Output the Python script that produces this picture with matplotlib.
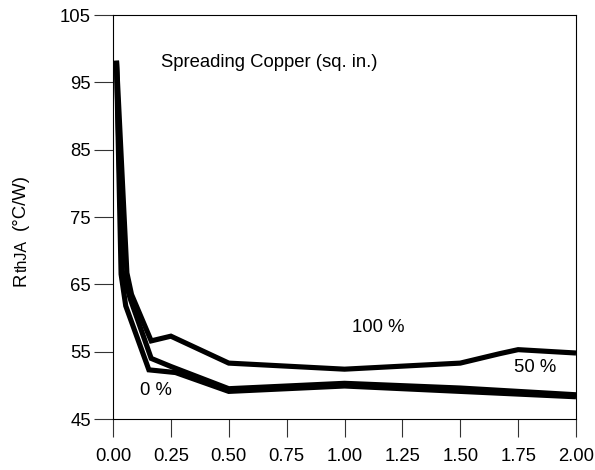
import numpy as np
import matplotlib
matplotlib.use("Agg")
import matplotlib.pyplot as plt

plt.rcParams['font.family'] = ['Liberation Sans', 'DejaVu Sans']

# Curves: spreading copper area (sq. in.) vs RthJA (C/W)
x_top = [0.015, 0.06, 0.08, 0.165, 0.25, 0.50, 1.00, 1.50, 1.67, 1.75, 2.00]
y_top = [98.2, 66.7, 63.5, 56.6, 57.3, 53.3, 52.4, 53.3, 54.7, 55.3, 54.8]

x_mid = [0.015, 0.04, 0.075, 0.165, 0.25, 0.50, 1.00, 1.50, 2.00]
y_mid = [98.2, 67.0, 62.8, 54.0, 52.8, 49.5, 50.3, 49.6, 48.6]

x_low = [0.015, 0.035, 0.055, 0.155, 0.27, 0.50, 1.00, 1.50, 2.00]
y_low = [98.2, 66.5, 61.8, 52.3, 51.9, 49.1, 49.9, 49.1, 48.3]

x_ticks = [0.00, 0.25, 0.50, 0.75, 1.00, 1.25, 1.50, 1.75, 2.00]
y_ticks = [45, 55, 65, 75, 85, 95, 105]

fs = 13.3
W, H = 595, 470

fig = plt.figure(figsize=(5.95, 4.70), dpi=100)
ax = fig.add_axes([113 / W, 1 - 419 / H, 463 / W, 404 / H])

for xs, ys in [(x_low, y_low), (x_mid, y_mid), (x_top, y_top)]:
    ax.plot(xs, ys, color='black', lw=3.7, solid_joinstyle='miter',
            solid_capstyle='butt')

ax.set_xlim(0, 2.0)
ax.set_ylim(45, 105)
ax.set_xticks(x_ticks)
ax.set_xticklabels([f"{v:.2f}" for v in x_ticks])
ax.set_yticks(y_ticks)

ax.tick_params(axis='both', direction='out', width=0.8,
               labelsize=fs, color='#333333')
ax.tick_params(axis='x', length=12.8, pad=8)
ax.tick_params(axis='y', length=14, pad=2)
for s in ax.spines.values():
    s.set_linewidth(0.8)

# y axis title built from pieces so the subscript sits close to the R
def ylab(text, x_px, y_px, size):
    fig.text(x_px / W, 1 - y_px / H, text, fontsize=size, rotation=90,
             rotation_mode='anchor', ha='left', va='baseline')

ylab('R', 25, 286, fs)
ylab('thJA', 26.7, 272, 11.5)
ylab('(°C/W)', 25, 230, fs)

ax.text(0.207, 97.9, 'Spreading Copper (sq. in.)', fontsize=fs,
        ha='left', va='center')
ax.text(1.145, 58.6, '100 %', fontsize=fs, ha='center', va='center')
ax.text(0.186, 49.3, '0 %', fontsize=fs, ha='center', va='center')
ax.text(1.823, 52.7, '50 %', fontsize=fs, ha='center', va='center',
        bbox=dict(facecolor='white', edgecolor='none', pad=2))

fig.savefig('out.png', dpi=100)
